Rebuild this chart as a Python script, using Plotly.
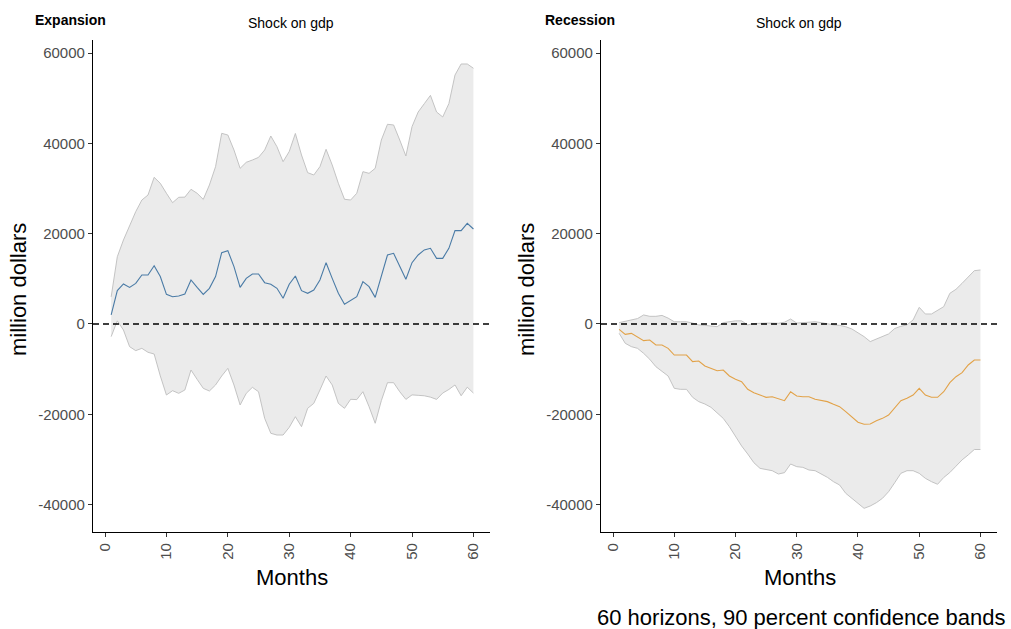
import plotly.graph_objects as go

months = list(range(1, 61))

exp_irf = [2000, 7400, 8860, 8100, 9000, 10850, 10850, 12900, 10500, 6570,
           6050, 6200, 6650, 9750, 8100, 6570, 7900, 10500, 15800, 16250,
           12700, 8100, 10100, 11070, 11070, 9150, 8800, 7900, 5700, 8800,
           10630, 7380, 6800, 7530, 9750, 13580, 10100, 6800, 4360, 5300,
           6050, 9370, 8270, 5900, 10850, 15280, 15650, 12700, 9900, 13580,
           15280, 16400, 16760, 14540, 14540, 16760, 20670, 20670, 22300, 21040]
exp_upper = [6000, 14900, 18600, 21900, 24880, 27460, 28570, 32490, 31160, 28950,
             26870, 28060, 28100, 29830, 28950, 27600, 30790, 34850, 42230, 41860,
             38540, 34480, 35810, 36320, 36900, 38540, 41640, 39270, 35950, 38200,
             42200, 37430, 33520, 33000, 34850, 38690, 35220, 31160, 27620, 27460,
             28950, 33740, 33370, 34480, 40750, 44230, 44080, 40750, 37210, 43710,
             46950, 48800, 50640, 46950, 45860, 48800, 55150, 57590, 57590, 56640]
exp_lower = [-2800, 700, -1330, -5020, -5900, -5390, -6270, -6650, -11500, -15730,
             -14770, -15360, -14620, -10190, -12260, -14250, -14840, -13510, -11520, -9820,
             -13510, -17940, -15360, -14030, -15000, -20890, -24210, -24590, -24590, -22900,
             -20530, -22740, -18680, -17580, -14620, -11520, -13510, -17580, -18680, -16680,
             -16750, -15000, -18310, -21990, -16980, -13000, -13000, -15000, -16700, -15700,
             -15800, -15900, -16200, -16700, -15300, -14500, -13500, -15900, -14000, -15300]

rec_irf = [-1180, -2290, -2070, -2950, -3690, -3540, -4650, -4650, -5390, -6870,
           -6870, -6870, -8340, -8200, -9300, -9820, -10340, -10190, -11520, -12260,
           -12780, -14470, -15210, -15730, -16240, -16100, -16610, -16980, -15000, -15950,
           -16100, -16100, -16680, -16980, -17200, -17800, -18310, -19420, -20670, -21770,
           -22220, -22150, -21410, -20900, -20160, -18680, -16980, -16460, -15730, -14250,
           -15730, -16240, -16240, -15000, -13000, -11670, -10780, -9080, -7970, -7970]
rec_upper = [300, 600, 1000, 1200, 2000, 1700, 1700, 1900, 1300, 500,
             500, 500, 200, -200, -300, -500, -600, 300, 500, 700,
             700, -200, 100, 200, 200, 200, 150, 400, 1100, 200,
             250, 400, 500, 300, 0, -200, -300, -600, -1100, -2000,
             -2800, -3900, -3300, -2800, -2200, -1000, -500, -200, 900, 3690,
             2216, 2216, 3100, 3840, 6790, 7680, 9010, 10480, 11810, 11960]
rec_lower = [-2070, -4280, -5020, -5390, -6500, -7820, -9450, -10560, -11520, -14250,
             -14470, -14470, -16240, -17200, -17720, -18460, -19790, -20900, -22740, -24960,
             -27020, -28800, -30720, -31970, -32190, -32490, -33230, -32930, -31010, -31600,
             -31750, -32340, -32490, -33230, -33960, -34920, -35660, -37500, -38610, -39870,
             -40830, -40310, -39580, -38610, -37140, -35150, -33080, -32490, -32490, -33080,
             -34180, -34920, -35500, -34000, -32900, -31500, -30100, -29000, -27800, -27800]

panel_titles = ["Expansion", "Recession"]
shock_title = "Shock on gdp"
y_title = "million dollars"
x_title = "Months"
caption = "60 horizons, 90 percent confidence bands"
x_ticks = [0, 10, 20, 30, 40, 50, 60]
y_ticks = [-40000, -20000, 0, 20000, 40000, 60000]
y_ticktext = [str(v) for v in y_ticks]

W, H = 1011, 629
FONT = "Arial, Liberation Sans, sans-serif"
band_fill = "#ebebeb"
band_line = "#bdbdbd"
line_colors = ["#4a7ba6", "#e2a248"]

fig = go.Figure()

panels = [
    (exp_lower, exp_upper, exp_irf, "x", "y"),
    (rec_lower, rec_upper, rec_irf, "x2", "y2"),
]
for i, (lo, up, mid, xa, ya) in enumerate(panels):
    fig.add_trace(go.Scatter(x=months, y=lo, mode="lines", xaxis=xa, yaxis=ya,
                             line=dict(color=band_line, width=0.9), showlegend=False,
                             hoverinfo="skip"))
    fig.add_trace(go.Scatter(x=months, y=up, mode="lines", xaxis=xa, yaxis=ya,
                             fill="tonexty", fillcolor=band_fill,
                             line=dict(color=band_line, width=0.9), showlegend=False,
                             hoverinfo="skip"))
    fig.add_trace(go.Scatter(x=months, y=mid, mode="lines", xaxis=xa, yaxis=ya,
                             line=dict(color=line_colors[i], width=1.1), showlegend=False))

def px_x(p):
    return p / W

def px_y(p):
    return 1 - p / H

xdom = [[px_x(93), px_x(490)], [px_x(601), px_x(997)]]
ydom = [px_y(532), px_y(40)]

axis_common = dict(
    showline=True, linecolor="black", linewidth=1.2, mirror=False,
    ticks="outside", ticklen=4, tickwidth=1.1, tickcolor="#333333",
    showgrid=False, zeroline=False,
    tickfont=dict(family=FONT, size=15, color="#4d4d4d"),
)
xr = [-1.96, 62.7]
yr = [-46070, 62900]

fig.update_layout(
    width=W, height=H, margin=dict(l=0, r=0, t=0, b=0),
    paper_bgcolor="white", plot_bgcolor="white", showlegend=False,
    xaxis=dict(domain=xdom[0], range=xr, tickvals=x_ticks, tickangle=-90,
               anchor="y", **axis_common),
    yaxis=dict(domain=ydom, range=yr, tickvals=y_ticks, ticktext=y_ticktext,
               anchor="x", **axis_common),
    xaxis2=dict(domain=xdom[1], range=xr, tickvals=x_ticks, tickangle=-90,
                anchor="y2", **axis_common),
    yaxis2=dict(domain=ydom, range=yr, tickvals=y_ticks, ticktext=y_ticktext,
                anchor="x2", **axis_common),
)

for xa in ["x", "x2"]:
    fig.add_shape(type="line", xref=f"{xa} domain", yref=xa.replace("x", "y"),
                  x0=0, x1=1, y0=0, y1=0,
                  line=dict(color="black", width=1.3, dash="6px,4px"))

ann = []
title_x = [33, 543]
shock_x = [291, 799]
ylab_x = [18, 526]
xlab_x = [292, 800]
for i in range(2):
    ann.append(dict(text=f"<b>{panel_titles[i]}</b>", x=px_x(title_x[i]), y=px_y(20),
                    xanchor="left", yanchor="middle",
                    font=dict(family=FONT, size=14, color="black")))
    ann.append(dict(text=shock_title, x=px_x(shock_x[i]), y=px_y(23),
                    xanchor="center", yanchor="middle",
                    font=dict(family=FONT, size=14, color="black")))
    ann.append(dict(text=y_title, x=px_x(ylab_x[i]), y=px_y(290), textangle=-90,
                    xanchor="center", yanchor="middle",
                    font=dict(family=FONT, size=22, color="black")))
    ann.append(dict(text=x_title, x=px_x(xlab_x[i]), y=px_y(577),
                    xanchor="center", yanchor="middle",
                    font=dict(family=FONT, size=22, color="black")))
ann.append(dict(text=caption, x=px_x(1008), y=px_y(617), xanchor="right", yanchor="middle",
                font=dict(family=FONT, size=22, color="black")))
for a in ann:
    a.update(xref="paper", yref="paper", showarrow=False)
fig.update_layout(annotations=ann)

fig.write_html(
    "out.html",
    config={"displayModeBar": False},
    post_script="document.body.style.margin='0';document.body.style.overflow='hidden';",
)
